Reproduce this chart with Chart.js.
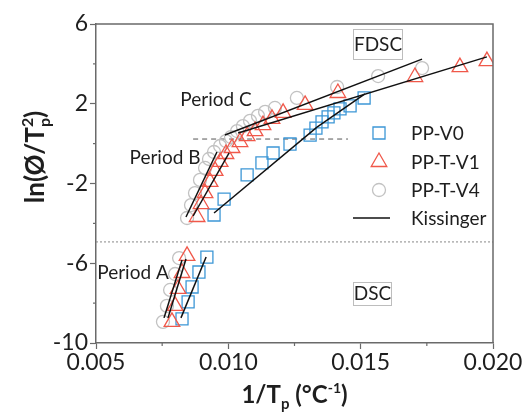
<!DOCTYPE html>
<html><head><meta charset="utf-8">
<script src="https://cdn.jsdelivr.net/npm/chart.js@4/dist/chart.umd.min.js"></script>
<style>html,body{margin:0;padding:0;background:#fff}#wrap{width:524px;height:412px}</style>
</head><body><div id="wrap"><canvas id="c" width="524" height="412"></canvas></div>
<script>
// ---- data ----
const xTickLabels = ['0.005', '', '0.010', '', '0.015', '', '0.020'];
const yTickLabels = ['-10', '', '-6', '', '-2', '', '2', '', '6'];

const v0X = [0.00825, 0.00848, 0.00863, 0.00889, 0.00919,
             0.00946, 0.00984, 0.01071, 0.01127, 0.01169, 0.01233, 0.01309, 0.01331, 0.01354, 0.01377, 0.01399, 0.01422, 0.01460, 0.01513];
const v0Y = [-8.79, -7.94, -7.19, -6.44, -5.69,
             -3.58, -2.78, -1.57, -0.97, -0.47, -0.02, 0.43, 0.78, 1.09, 1.34, 1.54, 1.74, 1.89, 2.29];

const v1X = [0.00787, 0.00799, 0.00810, 0.00825, 0.00844,
             0.00882, 0.00897, 0.00912, 0.00931, 0.00950, 0.00969, 0.00991, 0.01014, 0.01044, 0.01071, 0.01101, 0.01131, 0.01165, 0.01207, 0.01290, 0.01414, 0.01705, 0.01875, 0.01977];
const v1Y = [-8.94, -8.14, -7.29, -6.49, -5.63,
             -3.68, -3.03, -2.48, -1.92, -1.37, -0.92, -0.52, -0.22, 0.08, 0.38, 0.63, 0.93, 1.24, 1.54, 1.94, 2.54, 3.34, 3.84, 4.14];

const v4X = [0.00753, 0.00768, 0.00780, 0.00799, 0.00814,
             0.00844, 0.00859, 0.00874, 0.00893, 0.00912, 0.00927, 0.00946, 0.00969, 0.00991, 0.01010, 0.01033, 0.01055, 0.01082, 0.01112, 0.01139, 0.01176, 0.01259, 0.01411, 0.01566, 0.01732];
const v4Y = [-8.94, -8.14, -7.34, -6.54, -5.74,
             -3.73, -3.08, -2.48, -1.82, -1.22, -0.77, -0.42, -0.12, 0.13, 0.33, 0.63, 0.88, 1.14, 1.39, 1.59, 1.79, 2.29, 2.84, 3.39, 3.79];

// Kissinger fit segments: [start, end]
const kissX = [[0.00757, 0.00825], [0.00772, 0.00840], [0.00821, 0.00916],
               [0.00840, 0.00957], [0.00867, 0.01003], [0.00946, 0.01335],
               [0.00987, 0.01732], [0.01037, 0.01977], [0.01335, 0.01516]];
const kissY = [[-8.74, -5.84], [-8.74, -5.79], [-8.74, -5.69],
               [-3.68, -0.42], [-3.63, -0.47], [-3.48, 0.83],
               [0.43, 4.24], [0.53, 4.35], [0.83, 2.49]];

// reference lines
const fdscLimitX = [0.00867, 0.01452];
const fdscLimitY = [0.23, 0.23];
const dscLimitX = [0.005, 0.020];
const dscLimitY = [-4.93, -4.93];

const seriesNames = ['PP-V0', 'PP-T-V1', 'PP-T-V4', 'Kissinger'];

// ---- styles ----
const FONT = 'Lato, "Open Sans", sans-serif';
const BLUE = '#3d97d6', RED = '#f0584a', GRAY = '#c2c2c2', AXIS = '#6a6a6a', TXT = '#1e1e1e';

const pts = (xs, ys) => xs.map((x, i) => ({x: x, y: ys[i]}));

const datasets = [];
kissX.forEach((xs, i) => datasets.push({
  label: 'Kissinger', data: pts(xs, kissY[i]), showLine: true, borderColor: '#111', borderWidth: 1.5,
  pointRadius: 0, fill: false, order: 0
}));
datasets.push({label: seriesNames[0], data: pts(v0X, v0Y), showLine: false, pointStyle: 'rect', pointRadius: 8.5,
  borderColor: BLUE, backgroundColor: 'rgba(0,0,0,0)', pointBorderWidth: 1.3, order: 3});
datasets.push({label: seriesNames[1], data: pts(v1X, v1Y), showLine: false, pointStyle: 'triangle', pointRadius: 9,
  borderColor: RED, backgroundColor: 'rgba(0,0,0,0)', pointBorderWidth: 1.3, order: 2});
datasets.push({label: seriesNames[2], data: pts(v4X, v4Y), showLine: false, pointStyle: 'circle', pointRadius: 6.5,
  borderColor: GRAY, backgroundColor: 'rgba(0,0,0,0)', pointBorderWidth: 1.3, order: 4});
datasets.push({label: 'fdsc', data: pts(fdscLimitX, fdscLimitY), showLine: true, borderColor: '#555', borderWidth: 1,
  borderDash: [5, 4], pointRadius: 0, order: 5});
datasets.push({label: 'dsc', data: pts(dscLimitX, dscLimitY), showLine: true, borderColor: '#888', borderWidth: 1,
  borderDash: [2, 2], pointRadius: 0, order: 5});

function drawParts(ctx, parts, cx, baseY) {
  let w = 0;
  parts.forEach(p => { ctx.font = p.f; p.w = ctx.measureText(p.t).width; if (!p.noAdv) w += p.w; });
  let x = cx - w / 2;
  parts.forEach(p => { ctx.font = p.f; ctx.fillText(p.t, x, baseY + (p.dy || 0)); if (!p.noAdv) x += p.w; });
}

const decor = {
  id: 'decor',
  afterDraw(chart) {
    const ctx = chart.ctx, a = chart.chartArea, sx = chart.scales.x, sy = chart.scales.y;
    ctx.save();
    // frame top/right
    ctx.strokeStyle = AXIS; ctx.lineWidth = 1.5;
    ctx.beginPath(); ctx.moveTo(a.left, a.top); ctx.lineTo(a.right, a.top); ctx.lineTo(a.right, a.bottom); ctx.stroke();
    // minor ticks
    ctx.lineWidth = 1.2;
    sx.ticks.forEach((t, i) => { if (i % 2 === 1) { const p = sx.getPixelForValue(t.value); ctx.beginPath(); ctx.moveTo(p, a.bottom); ctx.lineTo(p, a.bottom + 3); ctx.stroke(); } });
    sy.ticks.forEach((t, i) => { if (i % 2 === 1) { const p = sy.getPixelForValue(t.value); ctx.beginPath(); ctx.moveTo(a.left, p); ctx.lineTo(a.left - 3, p); ctx.stroke(); } });

    ctx.fillStyle = TXT; ctx.textBaseline = 'alphabetic'; ctx.textAlign = 'left';
    // x title
    drawParts(ctx, [
      {t: '1/T', f: 'bold 24px ' + FONT},
      {t: 'p', f: 'bold 15px ' + FONT, dy: 6},
      {t: ' (°C', f: 'bold 24px ' + FONT},
      {t: '-1', f: 'bold 14px ' + FONT, dy: -10},
      {t: ')', f: 'bold 24px ' + FONT}
    ], (a.left + a.right) / 2, 403);
    // y title
    ctx.save();
    ctx.translate(44, 157); ctx.rotate(-Math.PI / 2);
    drawParts(ctx, [
      {t: 'ln(Ø/T', f: 'bold 26px ' + FONT},
      {t: '2', f: 'bold 16px ' + FONT, dy: -11, noAdv: true},
      {t: 'p', f: 'bold 16px ' + FONT, dy: 6},
      {t: ')', f: 'bold 26px ' + FONT}
    ], 0, 0);
    ctx.restore();

    // annotations
    ctx.font = '19px ' + FONT; ctx.textAlign = 'center'; ctx.textBaseline = 'middle';
    ctx.fillText('Period C', 216, 100);
    ctx.fillText('Period B', 165, 158);
    ctx.fillText('Period A', 133, 273);
    ctx.strokeStyle = '#bdbdbd'; ctx.lineWidth = 1;
    ctx.strokeRect(353.5, 29.5, 49, 30);
    ctx.fillText('FDSC', 378, 45);
    ctx.strokeRect(353.5, 282.5, 38, 23);
    ctx.fillText('DSC', 372.5, 294);

    // legend
    const H = Chart.helpers;
    const lx = 379, ys = [133, 162, 190, 218];
    const styles = [['rect', 8.5, BLUE], ['triangle', 9, RED], ['circle', 6.5, GRAY]];
    styles.forEach((s, i) => {
      ctx.strokeStyle = s[2]; ctx.fillStyle = 'rgba(0,0,0,0)'; ctx.lineWidth = 1.3;
      H.drawPoint(ctx, {pointStyle: s[0], radius: s[1], rotation: 0, borderWidth: 1.3}, lx, ys[i]);
    });
    ctx.strokeStyle = '#111'; ctx.lineWidth = 1.5;
    ctx.beginPath(); ctx.moveTo(353, ys[3]); ctx.lineTo(390, ys[3]); ctx.stroke();
    ctx.fillStyle = TXT; ctx.textAlign = 'left'; ctx.font = '19px ' + FONT;
    seriesNames.forEach((n, i) => ctx.fillText(n, 411, ys[i] + 1));
    ctx.restore();
  }
};

new Chart(document.getElementById('c'), {
  type: 'scatter',
  data: {datasets: datasets},
  options: {
    responsive: false, animation: false, devicePixelRatio: 1,
    layout: {padding: {top: 24, right: 31, left: 0, bottom: 0}},
    plugins: {legend: {display: false}, tooltip: {enabled: false}},
    scales: {
      x: {
        type: 'linear', position: 'bottom', min: 0.005, max: 0.020,
        ticks: {stepSize: 0.0025, autoSkip: false, maxRotation: 0, padding: 0, color: TXT,
          font: {family: FONT, size: 23}, callback: (v, i) => xTickLabels[i]},
        grid: {drawOnChartArea: false, drawTicks: true, tickLength: 6, tickWidth: 1.2,
          tickColor: c => (c.index % 2 === 0 ? AXIS : 'rgba(0,0,0,0)')},
        border: {display: true, color: AXIS, width: 1.5},
        afterFit: s => { s.height = 69; }
      },
      y: {
        type: 'linear', min: -10, max: 6,
        ticks: {stepSize: 2, autoSkip: false, padding: 2, color: TXT,
          font: {family: FONT, size: 23}, callback: (v, i) => yTickLabels[i]},
        grid: {drawOnChartArea: false, drawTicks: true, tickLength: 6, tickWidth: 1.2,
          tickColor: c => (c.index % 2 === 0 ? AXIS : 'rgba(0,0,0,0)')},
        border: {display: true, color: AXIS, width: 1.5},
        afterFit: s => { s.width = 96; }
      }
    }
  },
  plugins: [decor]
});
</script>
</body></html>
